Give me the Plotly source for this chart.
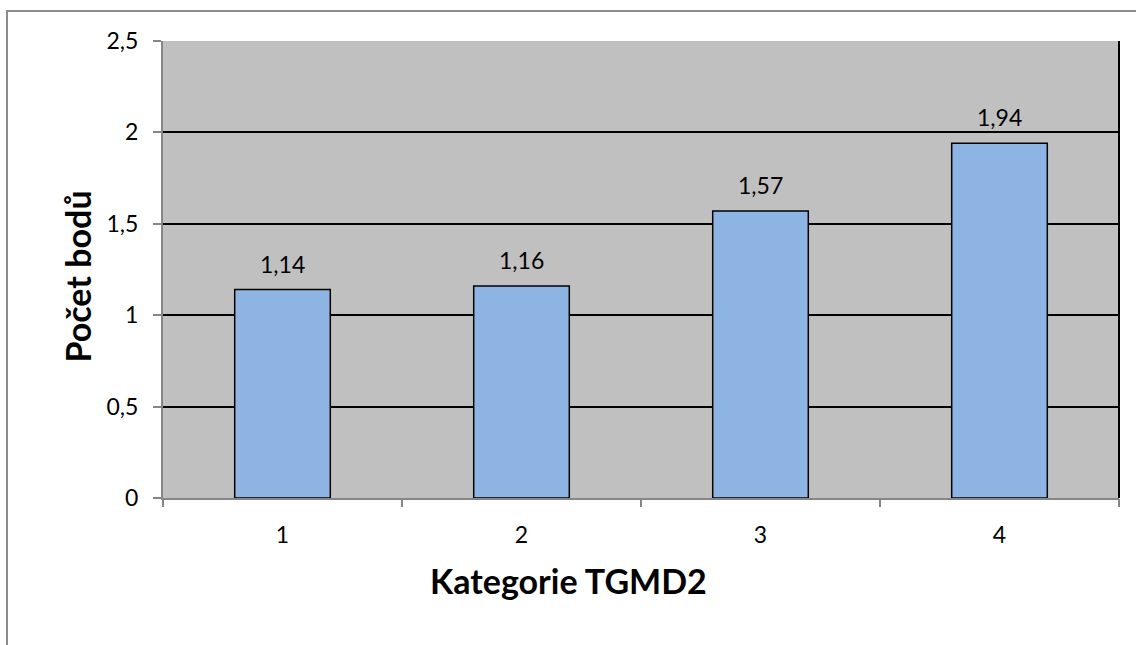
import plotly.graph_objects as go

# Data
categories = [1, 2, 3, 4]
values = [1.14, 1.16, 1.57, 1.94]
y_ticks = [0, 0.5, 1, 1.5, 2, 2.5]
x_title = "Kategorie TGMD2"
y_title = "Počet bodů"

FONT = "Lato"
W, H = 1136, 645
L, R, T, B = 163, 17, 41, 147
pw, ph = W - L - R, H - T - B


def px_x(p):
    return (p - L) / pw


def px_y(p):
    return (H - B - p) / ph


fig = go.Figure()
fig.add_trace(go.Bar(
    x=categories, y=values, width=0.4,
    marker=dict(color="#8EB4E3", line=dict(color="black", width=1.5)),
    hoverinfo="skip", showlegend=False,
))

# value labels above bars
for c, v in zip(categories, values):
    fig.add_annotation(x=c, y=v, xref="x", yref="y",
                       text=f"{v:.2f}".replace(".", ","),
                       showarrow=False, yanchor="middle", yshift=26,
                       font=dict(family=FONT, size=23, color="black"))

# axis titles
fig.add_annotation(x=px_x(568), y=px_y(603), xref="paper", yref="paper",
                   text=f"<b>{x_title}</b>", showarrow=False,
                   font=dict(family=FONT, size=34, color="black"))
fig.add_annotation(x=px_x(54), y=px_y(277), xref="paper", yref="paper",
                   text=f"<b>{y_title}</b>", showarrow=False, textangle=-90,
                   font=dict(family=FONT, size=34, color="black"))

# right border of the plot area
fig.add_shape(type="line", xref="paper", yref="paper", x0=1, x1=1, y0=0, y1=1,
              line=dict(color="black", width=2))
# outer chart frame
fig.add_shape(type="rect", xref="paper", yref="paper",
              x0=px_x(7), x1=px_x(1150), y0=px_y(660), y1=px_y(11),
              line=dict(color="#8C8C8C", width=2))

fig.update_layout(
    width=W, height=H,
    margin=dict(l=L, r=R, t=T, b=B),
    paper_bgcolor="white",
    plot_bgcolor="#C0C0C0",
    separators=", ",
    bargap=0.6,
    xaxis=dict(
        range=[0.5, 4.5], tickvals=categories, ticktext=[str(c) for c in categories],
        ticks="", showgrid=False, zeroline=False,
        showline=True, linecolor="#868686", linewidth=2,
        tickfont=dict(family=FONT, size=23, color="black"),
        ticklabelstandoff=15,
    ),
    xaxis2=dict(
        overlaying="x", range=[0.5, 4.5], tickvals=[0.5, 1.5, 2.5, 3.5, 4.5],
        showticklabels=False, ticks="outside", ticklen=8, tickwidth=2,
        tickcolor="#868686", showgrid=False, zeroline=False, side="bottom",
        showline=False,
    ),
    yaxis=dict(
        range=[0, 2.5], tickvals=y_ticks, ticks="outside", ticklen=8,
        tickwidth=2, tickcolor="#868686",
        showgrid=True, gridcolor="black", gridwidth=1.5,
        zeroline=False, showline=True, linecolor="#868686", linewidth=2,
        tickfont=dict(family=FONT, size=23, color="black"),
        ticklabelstandoff=10,
    ),
)

# invisible trace so the boundary ticks of xaxis2 are drawn
fig.add_trace(go.Scatter(x=[0.5], y=[0], xaxis="x2", mode="markers",
                         marker=dict(opacity=0), hoverinfo="skip", showlegend=False))

fig.write_html("out.html")
